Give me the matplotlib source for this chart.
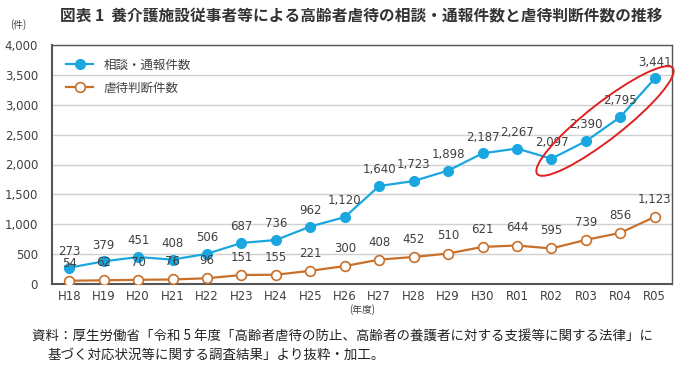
import matplotlib.pyplot as plt
from matplotlib.patches import Ellipse

plt.rcParams['font.family'] = ['DejaVu Sans', 'Noto Sans CJK JP']

years = ['H18', 'H19', 'H20', 'H21', 'H22', 'H23', 'H24', 'H25', 'H26', 'H27',
         'H28', 'H29', 'H30', 'R01', 'R02', 'R03', 'R04', 'R05']
soudan = [273, 379, 451, 408, 506, 687, 736, 962, 1120, 1640,
          1723, 1898, 2187, 2267, 2097, 2390, 2795, 3441]
gyakutai = [54, 62, 70, 76, 96, 151, 155, 221, 300, 408,
            452, 510, 621, 644, 595, 739, 856, 1123]

blue = '#1aa7e0'
orange = '#c8702a'
txt = '#404040'
jp = ['Noto Sans CJK JP', 'DejaVu Sans']

fig = plt.figure(figsize=(6.8, 3.65), dpi=100)
ax = fig.add_axes([52/680, 1 - 284/365, 620/680, 239/365])

x = list(range(len(years)))
ax.plot(x, soudan, '-o', color=blue, lw=1.6, ms=7, mfc=blue, mec=blue,
        label='相談・通報件数', zorder=3)
ax.plot(x, gyakutai, '-o', color=orange, lw=1.6, ms=7, mfc='white', mec=orange,
        mew=1.2, label='虐待判断件数', zorder=3)

for i, v in enumerate(soudan):
    ax.annotate(f'{v:,}', (i, v), xytext=(0, 7), textcoords='offset points',
                ha='center', va='bottom', fontsize=8.5, color=txt, clip_on=False)
for i, v in enumerate(gyakutai):
    ax.annotate(f'{v:,}', (i, v), xytext=(0, 8), textcoords='offset points',
                ha='center', va='bottom', fontsize=8.5, color=txt)

ax.set_xlim(-0.5, len(years) - 0.5)
ax.set_ylim(0, 4000)
ax.set_yticks(range(0, 4001, 500))
ax.set_yticklabels([f'{t:,}' for t in range(0, 4001, 500)])
ax.set_xticks(x)
ax.set_xticklabels(years)
ax.tick_params(length=0, labelsize=8.5, colors=txt, pad=4)
ax.tick_params(axis='y', pad=10)
ax.grid(axis='y', color='#d0d0d0', lw=1)
ax.set_axisbelow(True)
for s in ax.spines.values():
    s.set_color('#555555')
    s.set_linewidth(1.0)
ax.spines['left'].set_linewidth(1.5)
ax.spines['bottom'].set_linewidth(1.5)

leg = ax.legend(loc='upper left', frameon=False, handlelength=2.2,
                labelspacing=0.8, borderaxespad=0.7, prop={'family': jp, 'size': 9})
for t in leg.get_texts():
    t.set_color(txt)

ell = Ellipse((6.05, 2.44), 1.72, 0.36, angle=38, transform=fig.dpi_scale_trans,
              fill=False, edgecolor='#e02020', lw=1.4, clip_on=False, zorder=5)
fig.add_artist(ell)

fig.text(361/680, 1 - 16/365, '図表 1  養介護施設従事者等による高齢者虐待の相談・通報件数と虐待判断件数の推移',
         ha='center', va='center', fontsize=11.3, fontweight='bold', color='#333333', family=jp)
fig.text(18/680, 1 - 25/365, '(件)', fontsize=7, color=txt, family=jp, ha='center', va='center')
fig.text(362/680, 1 - 310/365, '(年度)', fontsize=7, color=txt, family=jp, ha='center', va='center')
fig.text(32/680, 1 - 337/365,
         '資料：厚生労働省「令和 5 年度「高齢者虐待の防止、高齢者の養護者に対する支援等に関する法律」に',
         fontsize=9.7, color='#222222', family=jp, va='center')
fig.text(48/680, 1 - 355/365, '基づく対応状況等に関する調査結果」より抜粋・加工。',
         fontsize=9.7, color='#222222', family=jp, va='center')

fig.savefig('out.png', dpi=100)
